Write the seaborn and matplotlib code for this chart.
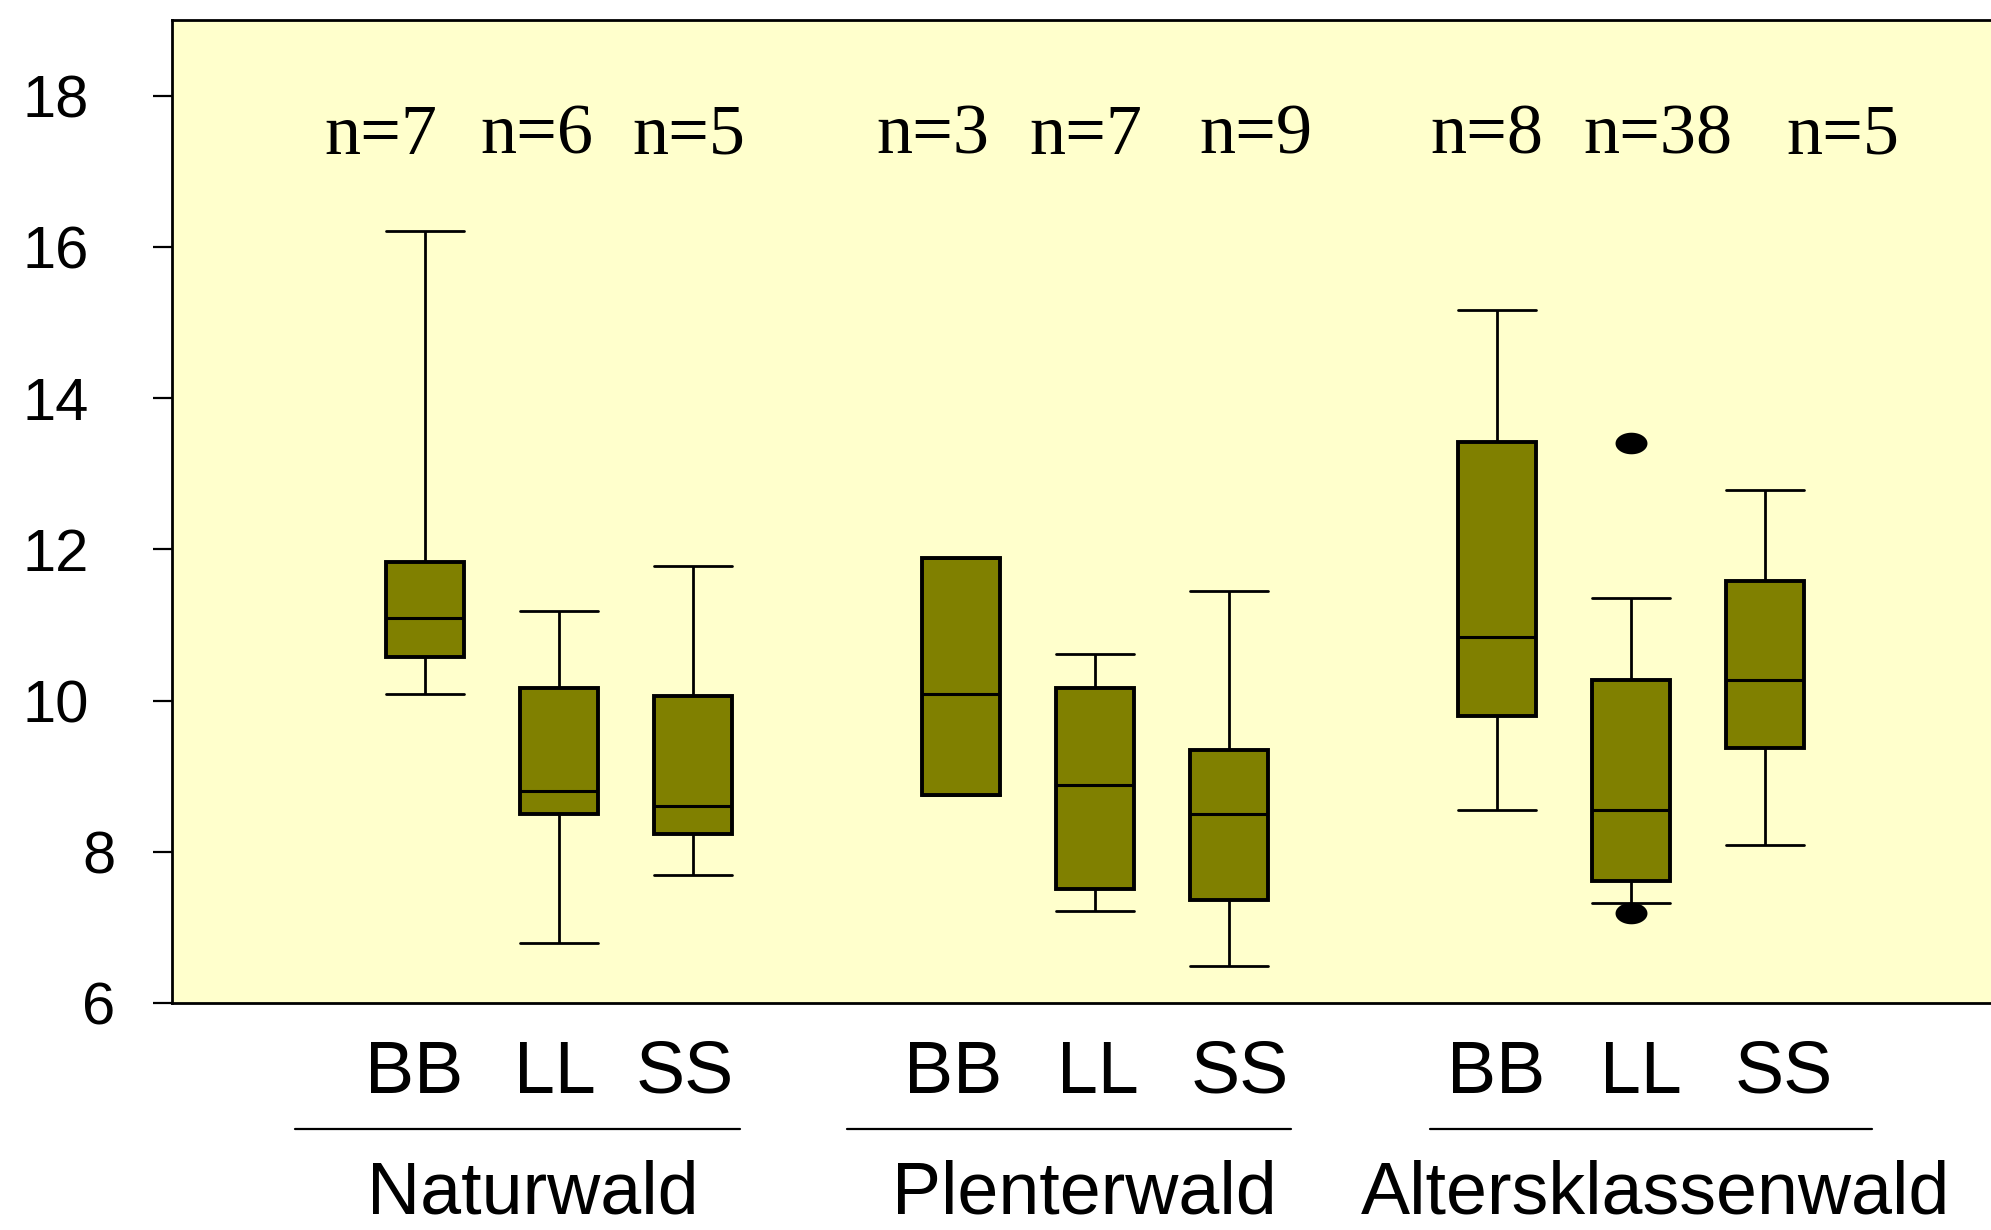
"""
Boxplots of three tree species in three forest types
"""
import numpy as np
import pandas as pd
import matplotlib
matplotlib.use('Agg')
import matplotlib.pyplot as plt
import matplotlib.transforms as mtransforms
from matplotlib.path import Path
import seaborn as sns

## Data
stands = ['Naturwald', 'Plenterwald', 'Altersklassenwald']
species = ['BB', 'LL', 'SS']
# one entry per box: Naturwald BB, LL, SS, Plenterwald BB, LL, SS, Altersklassenwald BB, LL, SS
n_obs = [7, 6, 5, 3, 7, 9, 8, 38, 5]
whisker_low = [10.09, 6.79, 7.69, 8.75, 7.22, 6.49, 8.55, 7.32, 8.09]
quartile_1 = [10.58, 8.50, 8.23, 8.75, 7.51, 7.36, 9.80, 7.61, 9.37]
median = [11.09, 8.80, 8.60, 10.09, 8.88, 8.50, 10.84, 8.55, 10.27]
quartile_3 = [11.83, 10.17, 10.06, 11.88, 10.17, 9.35, 13.42, 10.27, 11.58]
whisker_high = [16.21, 11.18, 11.78, 11.88, 10.61, 11.45, 15.17, 11.36, 12.79]
outlier_box = ['Altersklassenwald LL', 'Altersklassenwald LL']
outlier_value = [13.41, 7.19]
y_ticks = [6, 8, 10, 12, 14, 16, 18]

## Style
box_color = '#808000'
bg_color = '#FFFFCC'
sans = ['Liberation Sans', 'DejaVu Sans']
serif = ['Liberation Serif', 'DejaVu Serif']
# small horizontal shifts of the hand-placed labels, per box / per group
n_label_nudge = [-0.33, -0.17, -0.03, -0.21, -0.07, 0.20, -0.08, 0.20, 0.58]
species_label_nudge = [-0.085, -0.03, -0.06, -0.06, 0.02, 0.08, -0.01, 0.07, 0.14]
group_label_nudge = [-0.20, -0.08, 0.18]
group_line_span = [(-0.97, 2.35), (-0.85, 2.46), (-0.50, 2.80)]

sns.set_theme(style='white')
plt.rcParams['font.family'] = sans
plt.rcParams['text.color'] = 'black'
plt.rcParams['ytick.color'] = 'black'
plt.rcParams['ytick.labelcolor'] = 'black'

# long table: five values per box reproduce the five summary numbers
box_names = [f'{s} {sp}' for s in stands for sp in species]
rows = []
for i, name in enumerate(box_names):
    for v in (whisker_low[i], quartile_1[i], median[i], quartile_3[i], whisker_high[i]):
        rows.append({'box': name, 'value': v})
df = pd.DataFrame(rows)

# category order with empty slots between the forest types
order = []
for g, s in enumerate(stands):
    order += [f'{s} {sp}' for sp in species]
    if g < len(stands) - 1:
        order.append(f'gap{g}')

fig = plt.figure(figsize=(19.91, 12.30), dpi=100)
ax = fig.add_axes([0.0864, 0.1846, 0.93, 0.7991])
ax.set_facecolor(bg_color)

sns.boxplot(data=df, x='box', y='value', order=order, whis=(0, 100),
            width=0.58, color=box_color, saturation=1, linecolor='black',
            linewidth=2, showfliers=False, capwidths=0.58,
            boxprops=dict(linewidth=2.8), medianprops=dict(linewidth=2.2),
            whiskerprops=dict(linewidth=2), capprops=dict(linewidth=2), ax=ax)

# outliers as flat black ellipses
t = np.linspace(0, 2 * np.pi, 60)
ellipse = Path(np.column_stack([1.48 * np.cos(t), np.sin(t)]), closed=True)
sns.stripplot(x=outlier_box, y=outlier_value, order=order, jitter=False,
              color='black', marker=ellipse, size=23, linewidth=0, ax=ax)

ax.set_xlim(-1.89, 11.93)
ax.set_ylim(6, 19)
ax.set_xticks([])
ax.set_xlabel('')
ax.set_ylabel('')
ax.set_yticks(y_ticks, [str(v) for v in y_ticks])
ax.tick_params(axis='y', left=True, direction='out', length=13.7, width=1.6,
               labelsize=43, colors='black')
for tick, v in zip(ax.yaxis.get_major_ticks(), y_ticks):
    tick.set_pad(46 if v >= 10 else 27)
for side in ['left', 'top', 'bottom', 'right']:
    ax.spines[side].set_color('black')
    ax.spines[side].set_linewidth(2)

# n labels above the boxes
for i, name in enumerate(box_names):
    ax.text(order.index(name) + n_label_nudge[i], 17.23, f'n={n_obs[i]}',
            ha='center', va='baseline', fontsize=52, family=serif, color='black')

# species and forest type labels below the axis
trans = mtransforms.blended_transform_factory(ax.transData, ax.transAxes)
for i, name in enumerate(box_names):
    ax.text(order.index(name) + species_label_nudge[i], -0.0916, name.split()[-1],
            transform=trans, ha='center', va='baseline', fontsize=53,
            color='black')
for g, s in enumerate(stands):
    first = order.index(f'{s} {species[0]}')
    x0, x1 = group_line_span[g]
    ax.plot([first + x0, first + x1], [-0.128, -0.128], transform=trans,
            color='black', linewidth=1.6, clip_on=False)
    ax.text(first + 1 + group_label_nudge[g], -0.2295, s, transform=trans,
            ha='center', va='bottom', fontsize=53, color='black')

fig.savefig('out.png', dpi=100)
